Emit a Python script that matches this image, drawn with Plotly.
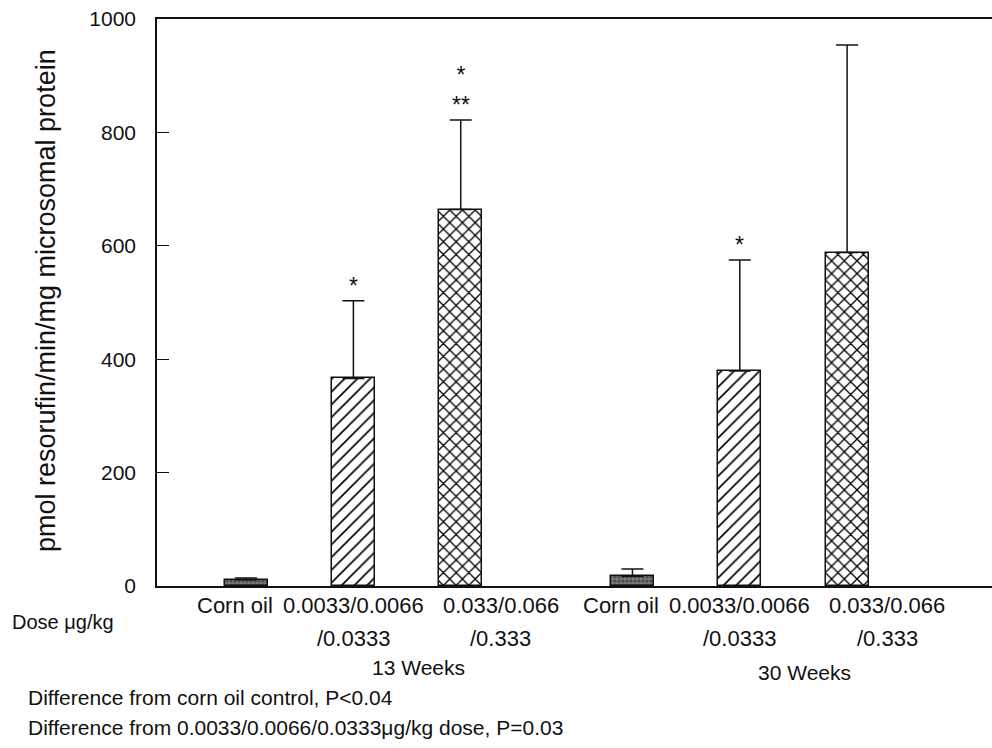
import plotly.graph_objects as go

# ---------------- data ----------------
groups = ["13 Weeks", "30 Weeks"]
doses = ["Corn oil", "0.0033/0.0066/0.0333", "0.033/0.066/0.333"]
dose_label_line1 = ["Corn oil", "0.0033/0.0066", "0.033/0.066"]
dose_label_line2 = ["", "/0.0333", "/0.333"]

corn_oil = [11, 17]
low_dose = [366, 379]
high_dose = [664, 588]

corn_oil_err = [3, 13]
low_dose_err = [137, 196]
high_dose_err = [158, 366]

# significance marks (per group) drawn above error bars
low_marks = ["*", "*"]
high_marks = ["*<br>**", ""]

yticks = [0, 200, 400, 600, 800, 1000]
y_title = "pmol resorufin/min/mg microsomal protein"
dose_axis_label = "Dose μg/kg"
footnotes = [
    "Difference from corn oil control, P<0.04",
    "Difference from 0.0033/0.0066/0.0333μg/kg dose, P=0.03",
]

# ---------------- layout helpers ----------------
GROUP_STEP = 3.6  # slots per group incl. gap
BAR_W = 0.4
FONT = "Liberation Sans, Arial, Helvetica, sans-serif"
INK = "#111111"

def xpos(slot):
    return [g * GROUP_STEP + slot for g in range(len(groups))]

series_vals = [corn_oil, low_dose, high_dose]
series_err = [corn_oil_err, low_dose_err, high_dose_err]
patterns = [
    dict(shape=".", fgcolor="#1a1a1a", bgcolor="#7a7a7a", size=4, solidity=0.5),
    dict(shape="/", fgcolor="#000000", bgcolor="white", size=9, solidity=0.18, fgopacity=1),
    dict(shape="x", fgcolor="#000000", bgcolor="white", size=9, solidity=0.27, fgopacity=1),
]

fig = go.Figure()
for i, (vals, errs, pat) in enumerate(zip(series_vals, series_err, patterns)):
    fig.add_trace(go.Bar(
        x=xpos(i), y=vals, width=BAR_W, name=doses[i],
        marker=dict(color="white", pattern=pat,
                    line=dict(color=INK, width=1.5)),
        error_y=dict(type="data", array=errs, arrayminus=[0] * len(errs),
                     symmetric=False, color=INK, thickness=1.5, width=11),
        showlegend=False,
    ))

annotations = []
for marks, vals, errs, slot in [(low_marks, low_dose, low_dose_err, 1),
                                (high_marks, high_dose, high_dose_err, 2)]:
    for g, m in enumerate(marks):
        if m:
            annotations.append(dict(
                x=xpos(slot)[g], y=vals[g] + errs[g], xref="x", yref="y",
                text=m, showarrow=False, yanchor="bottom", yshift=0,
                font=dict(size=23, family=FONT, color=INK),
            ))

PL, PR, PT, PB = 157, 992, 19, 586
PH = PB - PT
def py(pix):
    return (PB - pix) / PH
def px(pix):
    return (pix - PL) / (PR - PL)

label_shift = [-11, 0, 40]
LBL = dict(size=22, family=FONT, color=INK)
for g in range(len(groups)):
    for s in range(len(doses)):
        x = xpos(s)[g]
        annotations.append(dict(x=x, y=py(605), xref="x", yref="paper",
                                text=dose_label_line1[s], showarrow=False,
                                xshift=label_shift[s], yanchor="middle", font=LBL))
        if dose_label_line2[s]:
            annotations.append(dict(x=x, y=py(638), xref="x", yref="paper",
                                    text=dose_label_line2[s], showarrow=False,
                                    xshift=label_shift[s], yanchor="middle", font=LBL))
    annotations.append(dict(x=xpos(1)[g], y=py(667 + 5 * g), xref="x", yref="paper",
                            text=groups[g], showarrow=False, xshift=65,
                            yanchor="middle",
                            font=dict(size=21, family=FONT, color=INK)))

annotations.append(dict(x=px(10), y=py(622), xref="paper", yref="paper",
                        text=dose_axis_label, showarrow=False, xanchor="left",
                        yanchor="middle",
                        font=dict(size=20, family=FONT, color=INK)))
for k, t in enumerate(footnotes):
    annotations.append(dict(x=px(26), y=py(697 + 30 * k), xref="paper", yref="paper",
                            text=t, showarrow=False, xanchor="left",
                            yanchor="middle",
                            font=dict(size=21, family=FONT, color=INK)))
annotations.append(dict(x=px(46), y=py(301), xref="paper", yref="paper",
                        text=y_title, showarrow=False, textangle=-90,
                        xanchor="center", yanchor="middle",
                        font=dict(size=27, family=FONT, color=INK)))

fig.update_layout(
    width=992, height=748,
    margin=dict(l=PL, r=992 - PR, t=PT, b=748 - PB),
    paper_bgcolor="white", plot_bgcolor="white",
    annotations=annotations,
    xaxis=dict(range=[-0.83, 6.95], showline=True, mirror=True,
               linecolor=INK, linewidth=1.5, showticklabels=False,
               ticks="", showgrid=False, zeroline=False),
    yaxis=dict(range=[0, 1000], tickvals=yticks, ticks="inside", ticklen=12,
               tickwidth=1.2, tickcolor=INK, showline=True,
               linecolor=INK, linewidth=1.5, showgrid=False,
               zeroline=False, ticklabelstandoff=15,
               tickfont=dict(size=21, family=FONT, color=INK)),
    bargap=0,
)

fig.write_html("out.html", config={"displayModeBar": False},
               post_script="document.body.style.margin='0';document.body.style.overflow='hidden';")
